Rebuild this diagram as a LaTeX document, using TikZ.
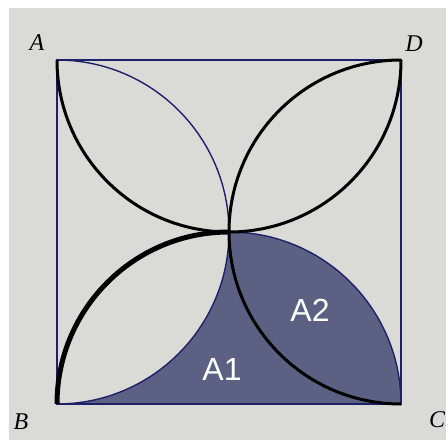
\documentclass[tikz,border=0pt]{standalone}
\usepackage{fontspec}
\setmainfont{Liberation Serif}
\newfontfamily\labelsans{Liberation Sans}
\definecolor{paper}{RGB}{218,218,214}
\definecolor{navy}{RGB}{30,32,105}
\definecolor{shadecol}{RGB}{92,97,132}
\begin{document}
\begin{tikzpicture}[x=1pt,y=1pt,
  sqline/.style={draw=navy,line width=2pt,line join=miter},
  bluearc/.style={draw=navy,line width=1.4pt},
  blackarc/.style={draw=black,line width=3pt},
  heavyarc/.style={draw=black,line width=5pt},
  ptlabel/.style={font=\fontsize{24}{24}\selectfont\itshape,inner sep=0pt},
  arealabel/.style={font=\labelsans\fontsize{32}{32}\selectfont,text=white,inner sep=0pt}]
\fill[white] (0,0) rectangle (446,440);
\fill[paper] (9,0) rectangle (446,432);
\useasboundingbox (0,0) rectangle (446,440);
\coordinate (A) at (57,380);
\coordinate (D) at (401,380);
\coordinate (B) at (57,36);
\coordinate (C) at (401,36);
\coordinate (O) at (229,208);
% shaded region
\fill[shadecol] (B) -- (C) arc[start angle=0,end angle=90,radius=172]
  arc[start angle=0,end angle=-90,radius=172] -- cycle;
% square
\draw[sqline] (A) -- (D) -- (C) -- (B) -- cycle;
% semicircles
\draw[bluearc] (A) arc[start angle=90,end angle=-90,radius=172];
\draw[bluearc] (O) arc[start angle=90,end angle=0,radius=172];
\draw[blackarc] (A) arc[start angle=180,end angle=360,radius=172];
\draw[blackarc] (D) arc[start angle=90,end angle=270,radius=172];
\draw[heavyarc] (B) arc[start angle=180,end angle=90,radius=172];
% labels
\node[ptlabel] (lA) at (37,397) {A};
\node[ptlabel] (lD) at (414,396) {D};
\node[ptlabel] (lB) at (21,18) {B};
\node[ptlabel] (lC) at (437,20) {C};
\node[arealabel] (a1) at (222,71) {A1};
\node[arealabel] (a2) at (310,130) {A2};
\end{tikzpicture}
\end{document}
